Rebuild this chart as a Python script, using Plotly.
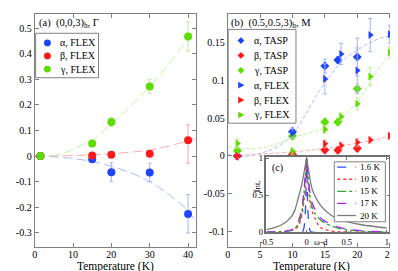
import plotly.graph_objects as go

# ---------------- Panel (a): (0,0,3)h, Gamma ----------------
T_a = [1.5, 15, 20, 30, 40]
alpha_a = [0.0, -0.013, -0.063, -0.064, -0.226]
alpha_a_err = [0.0, 0.006, 0.037, 0.036, 0.075]
beta_a = [0.0, 0.002, 0.005, 0.009, 0.062]
beta_a_errp = [0.0, 0.004, 0.004, 0.005, 0.060]
beta_a_errm = [0.0, 0.004, 0.004, 0.005, 0.090]
gamma_a = [0.0, 0.049, 0.133, 0.272, 0.467]
gamma_a_err = [0.0, 0.006, 0.018, 0.028, 0.057]

fitT_a = [0, 5, 10, 15, 20, 25, 30, 35, 40, 42]
fit_alpha_a = [0, -0.003, -0.010, -0.021, -0.040, -0.065, -0.100, -0.150, -0.215, -0.255]
fit_beta_a = [0, 0.0005, 0.002, 0.005, 0.009, 0.015, 0.023, 0.039, 0.060, 0.068]
fitT_a_gamma = [4, 7, 10, 12, 14, 16, 20, 25, 30, 35, 40, 42]
fit_gamma_a = [0, 0.008, 0.026, 0.040, 0.055, 0.072, 0.125, 0.195, 0.270, 0.360, 0.460, 0.505]

ticks_a_x = [0, 10, 20, 30, 40]
ticks_a_y = [-0.3, -0.2, -0.1, 0, 0.1, 0.2, 0.3, 0.4, 0.5]
ticktext_a_y = ["-0.3", "-0.2", "-0.1", "0", "0.1", "0.2", "0.3", "0.4", "0.5"]
legend_a_names = ["α, FLEX", "β, FLEX", "γ, FLEX"]

# ---------------- Panel (b): (0.5,0.5,3)h, M ----------------
T_tasp = [1.5, 10, 15, 17, 20]
alpha_tasp = [0.0, 0.032, 0.119, 0.127, 0.131]
alpha_tasp_err = [0.003, 0.006, 0.009, 0.004, 0.025]
beta_tasp = [0.0, 0.002, 0.008, 0.0075, 0.010]
beta_tasp_err = [0.003, 0.003, 0.004, 0.004, 0.004]
gamma_tasp = [0.007, 0.0265, 0.045, 0.045, 0.089]
gamma_tasp_err = [0.004, 0.005, 0.005, 0.005, 0.007]

T_flex = [1.5, 10, 15, 17.5, 20, 22, 25]
alpha_flex = [0.0, 0.030, 0.102, 0.135, 0.113, 0.160, 0.161]
alpha_flex_err = [0.003, 0.006, 0.020, 0.014, 0.030, 0.022, 0.012]
beta_flex = [0.0, 0.003, 0.016, 0.0137, 0.018, 0.021, 0.0265]
beta_flex_err = [0.003, 0.003, 0.005, 0.004, 0.005, 0.004, 0.004]
gamma_flex = [0.0165, 0.0065, 0.035, 0.052, 0.069, 0.105, 0.137]
gamma_flex_err = [0.006, 0.004, 0.005, 0.005, 0.008, 0.012, 0.008]

fitT_b = [0, 2, 4, 6, 8, 10, 12, 14, 16, 18, 20, 22, 24, 26]
fit_alpha_b = [0.002, -0.001, 0.001, 0.006, 0.014, 0.028, 0.055, 0.084, 0.108, 0.128, 0.140, 0.150, 0.157, 0.160]
fit_beta_b = [0.0, 0.001, 0.002, 0.003, 0.004, 0.0055, 0.007, 0.009, 0.011, 0.014, 0.017, 0.020, 0.024, 0.028]
fit_gamma_b = [0.012, 0.010, 0.0095, 0.012, 0.017, 0.024, 0.029, 0.034, 0.042, 0.054, 0.071, 0.098, 0.124, 0.146]

ticks_b_x = [0, 5, 10, 15, 20, 25]
ticks_b_y = [-0.1, -0.05, 0, 0.05, 0.1, 0.15]
ticktext_b_y = ["-0.1", "-0.05", "0", "0.05", "0.1", "0.15"]
legend_b_names = ["α, TASP", "β, TASP", "γ, TASP", "α, FLEX", "β, FLEX", "γ, FLEX"]

# ---------------- Inset (c): line shapes ----------------
x_16 = [-0.5, -0.1, -0.05, -0.03, -0.015, -0.007, 0, 0.007, 0.015, 0.03, 0.05, 0.1, 0.5, 1.0]
y_16 = [0.0, 0.0, 0.01, 0.08, 0.30, 0.60, 1.0, 0.60, 0.30, 0.08, 0.01, 0.0, 0.0, 0.0]
x_c = [-0.5, -0.4, -0.3, -0.2, -0.15, -0.1, -0.07, -0.05, -0.03, -0.015, 0,
       0.015, 0.03, 0.05, 0.07, 0.1, 0.15, 0.2, 0.3, 0.4, 0.5, 0.7, 1.0]
y_10 = [0.002, 0.004, 0.008, 0.02, 0.04, 0.09, 0.18, 0.28, 0.45, 0.70, 1.0,
        0.72, 0.50, 0.36, 0.28, 0.20, 0.09, 0.05, 0.02, 0.01, 0.005, 0.002, 0.0]
y_15 = [0.003, 0.006, 0.01, 0.025, 0.05, 0.12, 0.22, 0.35, 0.56, 0.78, 1.0,
        0.80, 0.60, 0.42, 0.34, 0.26, 0.19, 0.145, 0.09, 0.055, 0.035, 0.015, 0.005]
y_17 = [0.003, 0.007, 0.012, 0.03, 0.07, 0.16, 0.27, 0.40, 0.60, 0.80, 1.0,
        0.82, 0.64, 0.48, 0.40, 0.32, 0.23, 0.17, 0.11, 0.07, 0.045, 0.02, 0.008]
y_20 = [0.04, 0.065, 0.11, 0.20, 0.29, 0.48, 0.60, 0.70, 0.82, 0.91, 1.0,
        0.90, 0.80, 0.67, 0.58, 0.50, 0.40, 0.33, 0.235, 0.18, 0.145, 0.10, 0.06]
inset_names = ["1.6 K", "10 K", "15 K", "17 K", "20 K"]
ticks_c_x = [-0.5, 0, 0.5, 1]
ticktext_c_x = ["-0.5", "0", "0.5", "1"]
ticks_c_y = [0, 0.5, 1]
ticktext_c_y = ["0", "0.5", "1"]

# ---------------- styles ----------------
BLUE, RED, GREEN = "#1f45fc", "#ff1a1a", "#5ddc00"
BLUE_L, RED_L, GREEN_L = "#a3b3ff", "#ffa3a3", "#bdef93"
FONT = "Liberation Serif, Times New Roman, Tinos, serif"
W, H = 398, 271
FRAME = "#808080"

fig = go.Figure()


def fit_line(x, y, color, xa, ya, dash):
    fig.add_trace(go.Scatter(x=x, y=y, mode="lines", line=dict(color=color, width=0.9, dash=dash, shape="spline"),
                             xaxis=xa, yaxis=ya, showlegend=False, hoverinfo="skip"))


def pts(x, y, ep, em, color, ecolor, symbol, size, name, xa, ya):
    fig.add_trace(go.Scatter(x=x, y=y, mode="markers", name=name, showlegend=False,
                             marker=dict(color=color, symbol=symbol, size=size, line=dict(width=0)),
                             error_y=dict(type="data", array=ep, arrayminus=em, symmetric=False,
                                          color=ecolor, thickness=1, width=2),
                             xaxis=xa, yaxis=ya))


# panel (a)
fit_line(fitT_a, fit_alpha_a, BLUE_L, "x", "y", "10px,4px")
fit_line(fitT_a, fit_beta_a, RED_L, "x", "y", "10px,4px")
fit_line(fitT_a_gamma, fit_gamma_a, GREEN_L, "x", "y", "10px,4px")
pts(T_a, alpha_a, alpha_a_err, alpha_a_err, BLUE, BLUE_L, "circle", 8, legend_a_names[0], "x", "y")
pts(T_a, beta_a, beta_a_errp, beta_a_errm, RED, RED_L, "circle", 8, legend_a_names[1], "x", "y")
pts(T_a, gamma_a, gamma_a_err, gamma_a_err, GREEN, GREEN_L, "circle", 8, legend_a_names[2], "x", "y")

# panel (b)
fit_line(fitT_b, fit_alpha_b, BLUE_L, "x2", "y2", "4px,2px")
fit_line(fitT_b, fit_beta_b, RED_L, "x2", "y2", "4px,2px")
fit_line(fitT_b, fit_gamma_b, GREEN_L, "x2", "y2", "4px,2px")
pts(T_tasp, alpha_tasp, alpha_tasp_err, alpha_tasp_err, BLUE, BLUE_L, "diamond", 7, legend_b_names[0], "x2", "y2")
pts(T_tasp, beta_tasp, beta_tasp_err, beta_tasp_err, RED, RED_L, "diamond", 7, legend_b_names[1], "x2", "y2")
pts(T_tasp, gamma_tasp, gamma_tasp_err, gamma_tasp_err, GREEN, GREEN_L, "diamond", 7, legend_b_names[2], "x2", "y2")
pts(T_flex, alpha_flex, alpha_flex_err, alpha_flex_err, BLUE, BLUE_L, "triangle-right", 7, legend_b_names[3], "x2", "y2")
pts(T_flex, beta_flex, beta_flex_err, beta_flex_err, RED, RED_L, "triangle-right", 7, legend_b_names[4], "x2", "y2")
pts(T_flex, gamma_flex, gamma_flex_err, gamma_flex_err, GREEN, GREEN_L, "triangle-right", 7, legend_b_names[5], "x2", "y2")

# inset (c)
inset_styles = [("#2a4cff", "dash"), ("#ff3b3b", "dot"), ("#2eaa2e", "dashdot"), ("#a629f0", "dash"), ("#7a7a7a", "solid")]
inset_x = [x_16, x_c, x_c, x_c, x_c]
inset_y = [y_16, y_10, y_15, y_17, y_20]
for xs, ys, (col, dsh), nm in zip(inset_x, inset_y, inset_styles, inset_names):
    fig.add_trace(go.Scatter(x=xs, y=ys, mode="lines", name=nm,
                             line=dict(color=col, width=1.3, dash=dsh, shape="spline", smoothing=0.6),
                             xaxis="x3", yaxis="y3", showlegend=False, hoverinfo="skip"))


def px(v):
    return v / W


def py(v):
    return 1 - v / H


tickfont = dict(family=FONT, size=10, color="black")
common = dict(showgrid=False, zeroline=False, showline=True, linecolor=FRAME, linewidth=1,
              mirror="ticks", ticks="inside", ticklen=4, tickcolor=FRAME, tickfont=tickfont)
inset_ax = dict(showgrid=False, zeroline=False, showline=True, linecolor="#707070", linewidth=1.5, mirror="ticks",
                ticks="inside", ticklen=3, tickcolor="#707070", tickfont=dict(family=FONT, size=8.5, color="black"))

fig.update_layout(
    width=W, height=H, margin=dict(l=0, r=0, t=0, b=0),
    paper_bgcolor="white", plot_bgcolor="white", showlegend=False,
    font=dict(family=FONT, size=10, color="black"),
    xaxis=dict(domain=[px(20), px(184)], range=[0, 42], tickvals=ticks_a_x, anchor="y",
               ticklabelstandoff=-2, **common),
    yaxis=dict(domain=[py(243), py(2)], range=[-0.355, 0.555], tickvals=ticks_a_y, ticktext=ticktext_a_y,
               anchor="x", **common),
    xaxis2=dict(domain=[px(216.5), px(388)], range=[0, 26.0], tickvals=ticks_b_x, anchor="y2",
                ticklabelstandoff=-2, **common),
    yaxis2=dict(domain=[py(243), py(2)], range=[-0.1205, 0.188], tickvals=ticks_b_y, ticktext=ticktext_b_y,
                anchor="x2", **common),
    xaxis3=dict(domain=[px(256), px(381)], range=[-0.5, 1.03], tickvals=ticks_c_x, ticktext=ticktext_c_x,
                anchor="y3", ticklabelstandoff=1, **inset_ax),
    yaxis3=dict(domain=[py(228), py(150)], range=[0, 1.015], tickvals=ticks_c_y, ticktext=ticktext_c_y,
                anchor="x3", **inset_ax),
)

ann = [
    dict(text="(a)\u00a0 (0,0,3)<sub>h</sub>, Γ", x=px(22), y=py(12), xanchor="left", size=10.5),
    dict(text="(b)\u00a0 (0.5,0.5,3)<sub>h</sub>, M", x=px(218), y=py(12), xanchor="left", size=10.5),
    dict(text="Temperature (K)", x=px(102), y=py(263), xanchor="center", size=11.5),
    dict(text="Temperature (K)", x=px(302), y=py(263), xanchor="center", size=11.5),
    dict(text="(c)", x=px(260), y=py(161), xanchor="left", size=10),
    dict(text="ω-d", x=px(311), y=py(237.5), xanchor="center", size=9),
]
for a in ann:
    fig.add_annotation(text=a["text"], x=a["x"], y=a["y"], xref="paper", yref="paper", xanchor=a["xanchor"],
                       yanchor="middle", showarrow=False, font=dict(family=FONT, size=a["size"], color="black"))
fig.add_annotation(text="Int.", x=px(246), y=py(189), xref="paper", yref="paper", textangle=-90, showarrow=False,
                   font=dict(family=FONT, size=9, color="black"))


# ---------------- compact legends (box, key, label) ----------------
def legend_box(x0, x1, y0, y1):
    fig.add_shape(type="rect", xref="paper", yref="paper", x0=px(x0), x1=px(x1), y0=py(y1), y1=py(y0),
                  fillcolor="white", line=dict(color=FRAME, width=1), layer="above")


def key(kind, cx, cy, color, s=3.5):
    if kind == "circle":
        fig.add_shape(type="circle", xref="paper", yref="paper", x0=px(cx - s), x1=px(cx + s),
                      y0=py(cy + s), y1=py(cy - s), fillcolor=color, line=dict(width=0), layer="above")
        return
    if kind == "diamond":
        pts_ = [(cx, cy - s), (cx + s, cy), (cx, cy + s), (cx - s, cy)]
    else:  # triangle-right
        pts_ = [(cx - 0.8 * s, cy - s), (cx + s, cy), (cx - 0.8 * s, cy + s)]
    path = "M " + " L ".join(f"{px(a):.5f},{py(b):.5f}" for a, b in pts_) + " Z"
    fig.add_shape(type="path", xref="paper", yref="paper", path=path, fillcolor=color,
                  line=dict(width=0), layer="above")


def label(text, x, y, size):
    fig.add_annotation(text=text, x=px(x), y=py(y), xref="paper", yref="paper", xanchor="left", yanchor="middle",
                       showarrow=False, font=dict(family=FONT, size=size, color="black"))


# legend (a)
legend_box(21, 85, 22, 68)
for i, (nm, col) in enumerate(zip(legend_a_names, [BLUE, RED, GREEN])):
    r = 32 + 13.5 * i
    key("circle", 33, r, col)
    label(nm, 44, r, 10)

# legend (b)
legend_box(217, 286, 18, 115)
b_kinds = ["diamond"] * 3 + ["triangle"] * 3
for i, (nm, col, kd) in enumerate(zip(legend_b_names, [BLUE, RED, GREEN] * 2, b_kinds)):
    r = 29.5 + 15.4 * i
    key(kd, 230, r, col)
    label(nm, 241, r, 10)

# legend (c)
legend_box(325, 377, 155, 217)
for i, ((col, dsh), nm) in enumerate(zip(inset_styles, inset_names)):
    r = 160.5 + 12.5 * i
    fig.add_shape(type="line", xref="paper", yref="paper", x0=px(328), x1=px(347), y0=py(r), y1=py(r),
                  line=dict(color=col, width=1.3, dash=dsh), layer="above")
    label(nm, 349, r, 9)

fig.write_html("out.html")
